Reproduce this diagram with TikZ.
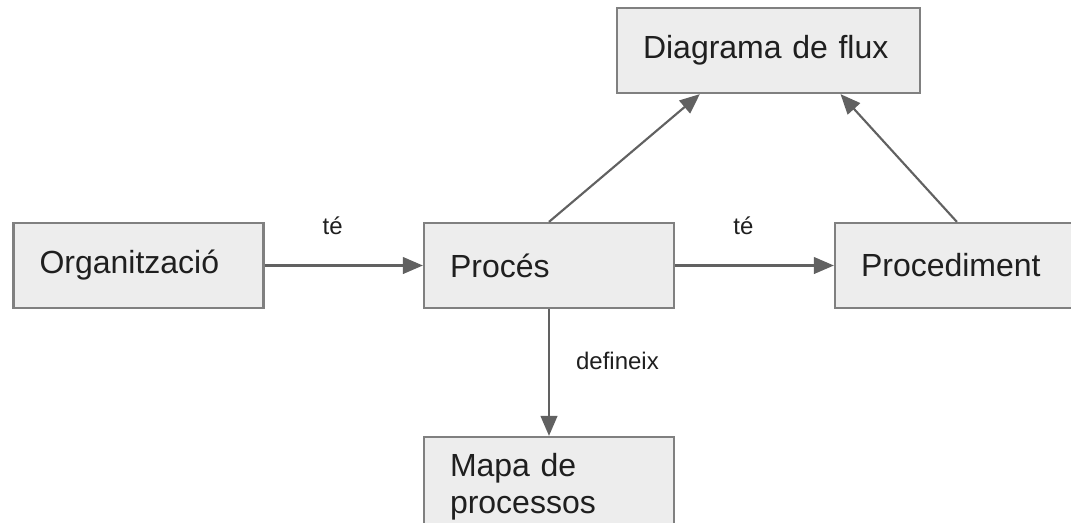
\documentclass[tikz,border=0pt]{standalone}
\usepackage{fontspec}
\setmainfont{Liberation Sans}
\usetikzlibrary{arrows.meta,calc}
\colorlet{boxfill}{black!7}
\colorlet{boxline}{black!50}
\colorlet{linkgray}{black!62}
\colorlet{txtgray}{black!88}
\tikzset{box/.style={draw=boxline,fill=boxfill,line width=1.7pt,text width=#1,inner xsep=19.5pt,
                     inner ysep=0pt,minimum height=63.75pt,align=left,text=txtgray,
                     font=\fontsize{24}{27.75}\selectfont},
         box/.default=148.5pt,
         link/.style={draw=linkgray,line width=1.6pt,-{Triangle[length=15pt,width=12.5pt]}},
         lbl/.style={text=txtgray,inner sep=0pt,font=\fontsize{18}{20}\selectfont}
}
\begin{document}
\begin{tikzpicture}[x=0.75pt,y=-0.75pt]
  \useasboundingbox (0,0) rectangle (1071,522);
  \node[box] (org) at (138.5,265.5) {Organització};
  \node[box] (proc) at (549,265.5) {Procés};
  \node[box=180pt] (procd) at (981,265.5) {Procediment};
  \node[box=188.25pt] (diag) at (768.5,50.5) {Diagrama de flux};
  \node[box,minimum height=75pt] (mapa) at (549,487) {Mapa de\\processos};
  % connectors
  \draw[link] (org) -- node[lbl,pos=0.43,above=22.5pt]{té} (proc);
  \draw[link] (proc) -- node[lbl,pos=0.43,above=22.5pt]{té} (procd);
  \draw[link] (proc) -- node[lbl,pos=0.41,right=19.5pt]{defineix} (mapa);
  \draw[link] (proc.north) -- ($(diag.south west)!0.275!(diag.south east)$);
  \draw[link] ($(procd.north west)+(123,0)$) -- ($(diag.south west)!0.736!(diag.south east)$);
\end{tikzpicture}
\end{document}
